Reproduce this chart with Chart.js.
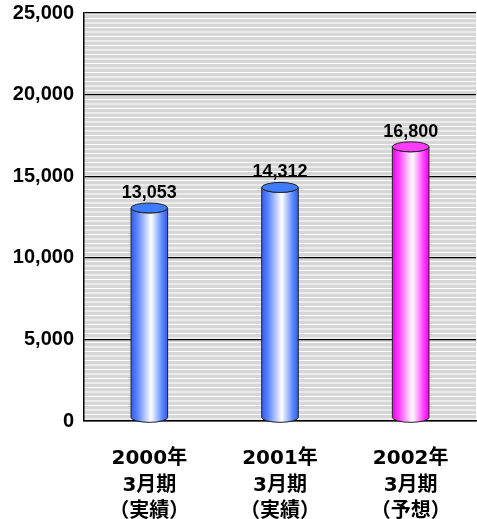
<!DOCTYPE html>
<html><head><meta charset="utf-8">
<script src="https://cdn.jsdelivr.net/npm/chart.js@4"></script>
<style>html,body{margin:0;padding:0;background:#fff;overflow:hidden}</style>
</head><body>
<canvas id="c" width="477" height="519"></canvas>
<script>
const categories = [['2000年','3月期','（実績）'],['2001年','3月期','（実績）'],['2002年','3月期','（予想）']];
const sales = [13053, 14312, 16800];
const yMin = 0, yMax = 25000, yStep = 5000;

const bodyEdge = ['#2f5de8', '#2f5de8', '#f000f0'];
const bodyMid  = ['#5d86ff', '#5d86ff', '#ff40ff'];
const topFill  = ['#3d7cff', '#3d7cff', '#ff3cff'];

function stripePattern(ctx){
  const p = document.createElement('canvas');
  p.width = 4; p.height = 9;
  const g = p.getContext('2d');
  g.fillStyle = '#d6d6d6'; g.fillRect(0,0,4,9);
  g.fillStyle = '#ffffff'; g.fillRect(0,0,4,1); g.fillRect(0,4.5,4,1);
  return ctx.createPattern(p, 'repeat');
}

const bgPlugin = {
  id: 'bg',
  beforeDraw(chart){
    const {ctx, chartArea:a} = chart;
    ctx.save();
    ctx.fillStyle = stripePattern(ctx);
    ctx.fillRect(a.left, a.top, a.right - a.left, a.bottom - a.top);
    ctx.restore();
  }
};

const cylPlugin = {
  id: 'cyl',
  afterDatasetsDraw(chart){
    const ctx = chart.ctx;
    const meta = chart.getDatasetMeta(0);
    meta.data.forEach((el, i) => {
      const {x, y, base, width} = el.getProps(['x','y','base','width'], true);
      const rx = width/2, ry = 5, by = base - 3;
      ctx.save();
      const g = ctx.createLinearGradient(x - rx, 0, x + rx, 0);
      g.addColorStop(0, bodyEdge[i]);
      g.addColorStop(0.18, bodyMid[i]);
      g.addColorStop(0.55, '#ffffff');
      g.addColorStop(0.85, bodyMid[i]);
      g.addColorStop(1, bodyEdge[i]);
      ctx.beginPath();
      ctx.moveTo(x - rx, y);
      ctx.lineTo(x - rx, by);
      ctx.ellipse(x, by, rx, ry, 0, Math.PI, 0, true);
      ctx.lineTo(x + rx, y);
      ctx.ellipse(x, y, rx, ry, 0, 0, Math.PI, false);
      ctx.closePath();
      ctx.fillStyle = g;
      ctx.fill();
      ctx.strokeStyle = '#222';
      ctx.lineWidth = 1;
      ctx.stroke();
      ctx.beginPath();
      ctx.ellipse(x, y, rx, ry, 0, 0, Math.PI*2);
      ctx.fillStyle = topFill[i];
      ctx.fill();
      ctx.stroke();
      ctx.fillStyle = '#000';
      ctx.font = 'bold 18px "Liberation Sans", Arial, sans-serif';
      ctx.textAlign = 'center';
      ctx.textBaseline = 'alphabetic';
      ctx.fillText(sales[i].toLocaleString('en-US'), x, y - ry - 5);
      ctx.restore();
    });
  }
};

new Chart(document.getElementById('c'), {
  type: 'bar',
  data: {
    labels: categories,
    datasets: [{ data: sales, backgroundColor: 'rgba(0,0,0,0)', borderWidth: 0,
      categoryPercentage: 1, barPercentage: 0.28 }]
  },
  options: {
    responsive: false,
    animation: false,
    layout: { padding: { top: 13, right: 1, left: 0, bottom: 0 } },
    plugins: { legend: { display: false }, tooltip: { enabled: false } },
    scales: {
      x: {
        grid: { display: false, drawTicks: false },
        border: { display: true, color: '#000', width: 1.5 },
        ticks: { color: '#000', padding: 25, maxRotation: 0, autoSkip: false,
          font: { family: '"DejaVu Sans", "Noto Sans CJK JP", sans-serif', size: 20, weight: 'bold', lineHeight: '26.5px' } },
        afterFit(s){ s.height = 98; s.paddingLeft = 0; s.paddingRight = 0; }
      },
      y: {
        min: yMin, max: yMax,
        ticks: { stepSize: yStep, color: '#000', padding: 10,
          font: { family: '"Liberation Sans", Arial, sans-serif', size: 20, weight: 'bold' },
          callback: v => v.toLocaleString('en-US') },
        grid: { color: '#000', lineWidth: 1.3, drawTicks: false },
        border: { display: true, color: '#000', width: 1.5 },
        afterFit(s){ s.width = 84; s.paddingTop = 0; s.paddingBottom = 0; }
      }
    }
  },
  plugins: [bgPlugin, cylPlugin]
});
</script>
</body></html>
